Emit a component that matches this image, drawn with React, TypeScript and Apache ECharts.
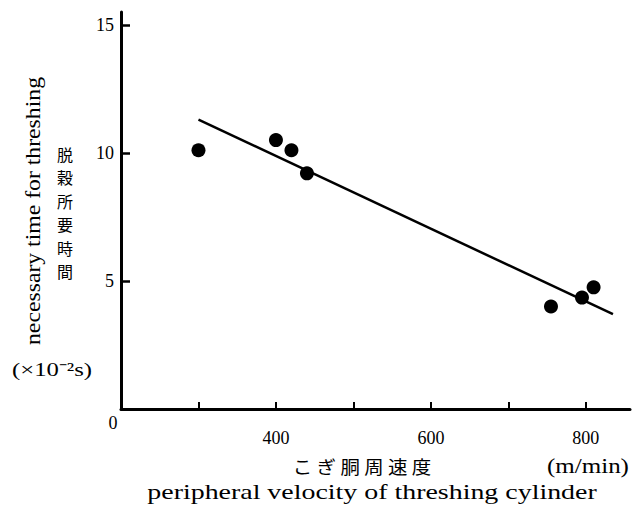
import React, { useEffect, useRef } from "react";
import * as echarts from "echarts";

const speedValues = [300, 400, 420, 440, 755, 795, 810];
const timeValues = [10.1, 10.5, 10.1, 9.2, 4.0, 4.35, 4.75];
const fitLineX = [300, 835];
const fitLineY = [11.3, 3.7];
const xTickValues = [300, 400, 500, 600, 700, 800];
const xLabelValues = [400, 600, 800];
const yTickValues = [5, 10, 15];
const yTitleChars = ["脱", "穀", "所", "要", "時", "間"];

const SERIF = "'Liberation Serif', 'Times New Roman', serif";
const CJK = "'Noto Sans CJK JP', sans-serif";

export default function App() {
  const ref = useRef<HTMLDivElement>(null);
  useEffect(() => {
    if (!ref.current) return;
    const chart = echarts.init(ref.current, null, { renderer: "svg" });
    const points = speedValues.map((x, i) => [x, timeValues[i]]);
    const line = fitLineX.map((x, i) => [x, fitLineY[i]]);
    const cjkTitle = yTitleChars.map((c, i) => ({
      type: "text",
      x: 65,
      y: 154 + i * 23.4,
      style: {
        text: c,
        fill: "#000",
        font: `16px ${CJK}`,
        textAlign: "center",
        textVerticalAlign: "middle",
      },
    }));
    chart.setOption({
      animation: false,
      backgroundColor: "#ffffff",
      grid: { left: 121, right: 2, top: 12, bottom: 99, containLabel: false },
      xAxis: {
        type: "value",
        min: 200,
        max: 857,
        splitLine: { show: false },
        axisLine: { show: true, onZero: false, lineStyle: { color: "#000", width: 3 } },
        axisTick: {
          show: true,
          inside: true,
          length: 7,
          customValues: xTickValues,
          lineStyle: { color: "#000", width: 2 },
        },
        axisLabel: {
          customValues: xLabelValues,
          margin: 20,
          color: "#000",
          fontFamily: SERIF,
          fontSize: 18,
        },
      },
      yAxis: {
        type: "value",
        min: 0,
        max: 15.5,
        splitLine: { show: false },
        axisLine: { show: true, onZero: false, lineStyle: { color: "#000", width: 3 } },
        axisTick: {
          show: true,
          inside: true,
          length: 9,
          customValues: yTickValues,
          lineStyle: { color: "#000", width: 2.5 },
        },
        axisLabel: {
          customValues: yTickValues,
          margin: 7,
          color: "#000",
          fontFamily: SERIF,
          fontSize: 18,
        },
      },
      series: [
        {
          type: "line",
          data: line,
          symbol: "none",
          lineStyle: { color: "#000", width: 2.5 },
          z: 2,
        },
        {
          type: "scatter",
          data: points,
          symbol: "circle",
          symbolSize: 14,
          itemStyle: { color: "#000", opacity: 1 },
          z: 3,
        },
      ],
      graphic: [
        {
          type: "text",
          x: 113,
          y: 423,
          style: {
            text: "0",
            fill: "#000",
            font: `18px ${SERIF}`,
            textAlign: "center",
            textVerticalAlign: "middle",
          },
        },
        {
          type: "text",
          x: 33,
          y: 211,
          rotation: Math.PI / 2,
          scaleX: 1.13,
          style: {
            text: "necessary time for threshing",
            fill: "#000",
            font: `21px ${SERIF}`,
            textAlign: "center",
            textVerticalAlign: "middle",
          },
        },
        ...cjkTitle,
        {
          type: "text",
          x: 52,
          y: 370,
          scaleX: 1.3,
          style: {
            text: "(×10⁻²s)",
            fill: "#000",
            font: `19px ${SERIF}`,
            textAlign: "center",
            textVerticalAlign: "middle",
          },
        },
        {
          type: "text",
          x: 362,
          y: 466,
          scaleX: 1.08,
          style: {
            text: "こ ぎ 胴 周 速 度",
            fill: "#000",
            font: `18px ${CJK}`,
            textAlign: "center",
            textVerticalAlign: "middle",
          },
        },
        {
          type: "text",
          x: 588,
          y: 466,
          scaleX: 1.25,
          style: {
            text: "(m/min)",
            fill: "#000",
            font: `20px ${SERIF}`,
            textAlign: "center",
            textVerticalAlign: "middle",
          },
        },
        {
          type: "text",
          x: 372,
          y: 492,
          scaleX: 1.33,
          style: {
            text: "peripheral velocity of threshing cylinder",
            fill: "#000",
            font: `21px ${SERIF}`,
            textAlign: "center",
            textVerticalAlign: "middle",
          },
        },
      ],
    });
    return () => chart.dispose();
  }, []);
  return (
    <div
      ref={ref}
      style={{ position: "absolute", left: 0, top: 0, width: 632, height: 508 }}
    />
  );
}
